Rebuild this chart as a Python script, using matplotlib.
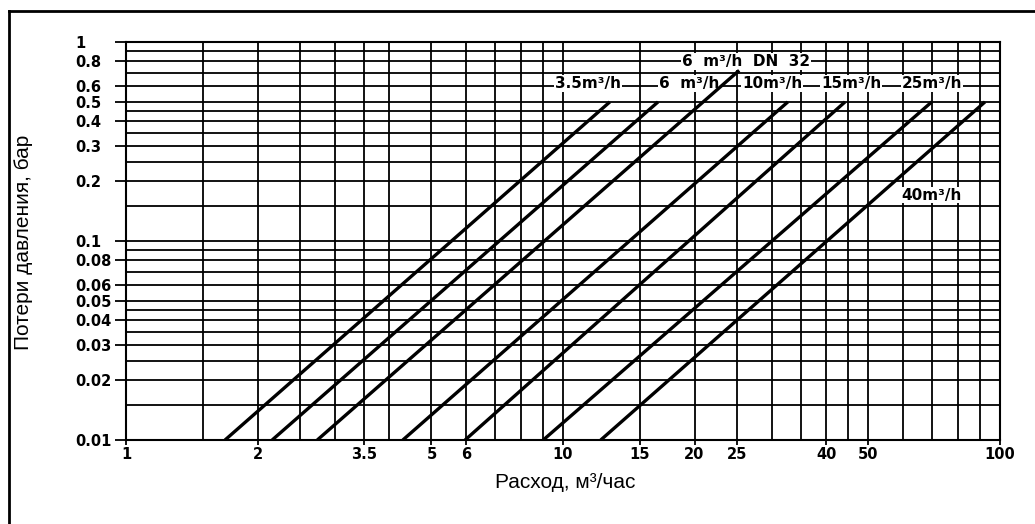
import matplotlib

matplotlib.use("Agg")

import matplotlib.pyplot as plt
from matplotlib.lines import Line2D
from matplotlib.ticker import NullFormatter, FixedLocator

# flow at 0.01 bar, flow and loss at the upper end of each line
series_names = ["3.5m³/h", "6  m³/h", "6  m³/h  DN  32", "10m³/h", "15m³/h", "25m³/h", "40m³/h"]
q_low = [1.685, 2.16, 2.74, 4.30, 5.97, 9.01, 12.2]
q_high = [12.8, 16.5, 25.3, 32.7, 44.2, 69.8, 92.4]
dp_high = [0.5, 0.5, 0.72, 0.5, 0.5, 0.5, 0.5]
dp_low = 0.01

# where the curve labels sit (flow, loss)
label_q = [11.4, 19.4, 26.2, 30.1, 45.6, 69.9, 69.6]
label_dp = [0.62, 0.62, 0.8, 0.62, 0.62, 0.62, 0.17]

x_ticks = [1, 2, 3.5, 5, 6, 10, 15, 20, 25, 40, 50, 100]
x_ticklabels = ["1", "2", "3.5", "5", "6", "10", "15", "20", "25", "40", "50", "100"]
y_ticks = [0.01, 0.02, 0.03, 0.04, 0.05, 0.06, 0.08, 0.1, 0.2, 0.3, 0.4, 0.5, 0.6, 0.8, 1]
y_ticklabels = ["0.01", "0.02", "0.03", "0.04", "0.05", "0.06", "0.08",
                "0.1", "0.2", "0.3", "0.4", "0.5", "0.6", "0.8", "1"]

x_grid = [1, 1.5, 2, 2.5, 3, 3.5, 4, 5, 6, 7, 8, 9,
          10, 15, 20, 25, 30, 35, 40, 45, 50, 60, 70, 80, 90, 100]
y_grid_steps = [1, 1.5, 2, 2.5, 3, 3.5, 4, 4.5, 5, 6, 7, 8, 9]
y_grid = [d * s for d in (0.01, 0.1) for s in y_grid_steps] + [1.0]

W, H = 1035, 524
fig = plt.figure(figsize=(W / 100, H / 100), dpi=100)
ax = fig.add_axes([126 / W, 1 - 440 / H, (1000 - 126) / W, (440 - 42) / H])

ax.set_xscale("log")
ax.set_yscale("log")
ax.set_xlim(1, 100)
ax.set_ylim(0.01, 1)

ax.xaxis.set_minor_locator(FixedLocator(x_grid))
ax.yaxis.set_minor_locator(FixedLocator(y_grid))
ax.xaxis.set_minor_formatter(NullFormatter())
ax.yaxis.set_minor_formatter(NullFormatter())
ax.grid(which="both", color="black", lw=1.3)
ax.set_axisbelow(True)

tick_font = dict(family="DejaVu Sans", weight="bold", size=10.5)
ax.set_xticks(x_ticks)
ax.set_xticklabels(x_ticklabels, **tick_font)
ax.set_yticks(y_ticks)
ax.set_yticklabels(y_ticklabels, **tick_font)
for lab in ax.get_yticklabels():
    lab.set_horizontalalignment("left")

ax.tick_params(which="minor", length=0)
ax.tick_params(axis="x", which="major", length=3.5, width=1.3, pad=1.5)
ax.tick_params(axis="y", which="major", length=8, width=1.3, pad=28.8)
for sp in ax.spines.values():
    sp.set_linewidth(1.5)
    sp.set_color("black")

for lo, hi, top in zip(q_low, q_high, dp_high):
    ax.plot([lo, hi], [dp_low, top], color="black", lw=2.4, solid_capstyle="butt", zorder=3)

# labels sit under the curves but over the grid
for name, lq, ld in zip(series_names, label_q, label_dp):
    ax.text(lq, ld, name, ha="center", va="center", family="DejaVu Sans",
            weight="bold", size=11, zorder=2.5,
            bbox=dict(facecolor="white", edgecolor="none", pad=0.5))

label_font = dict(family=["Liberation Sans", "DejaVu Sans"], size=15)
fig.text(565 / W, 1 - 482 / H, "Расход, м³/час", ha="center", va="center", **label_font)
fig.text(24 / W, 1 - 242 / H, "Потери давления, бар", ha="center", va="center",
         rotation=90, **label_font)

# outer frame (only top and left edges are visible)
fig.add_artist(Line2D([9 / W, 1.0], [1 - 11 / H, 1 - 11 / H], color="black", lw=2))
fig.add_artist(Line2D([9 / W, 9 / W], [0.0, 1 - 11 / H], color="black", lw=2))

fig.savefig("out.png", dpi=100)
plt.close(fig)
